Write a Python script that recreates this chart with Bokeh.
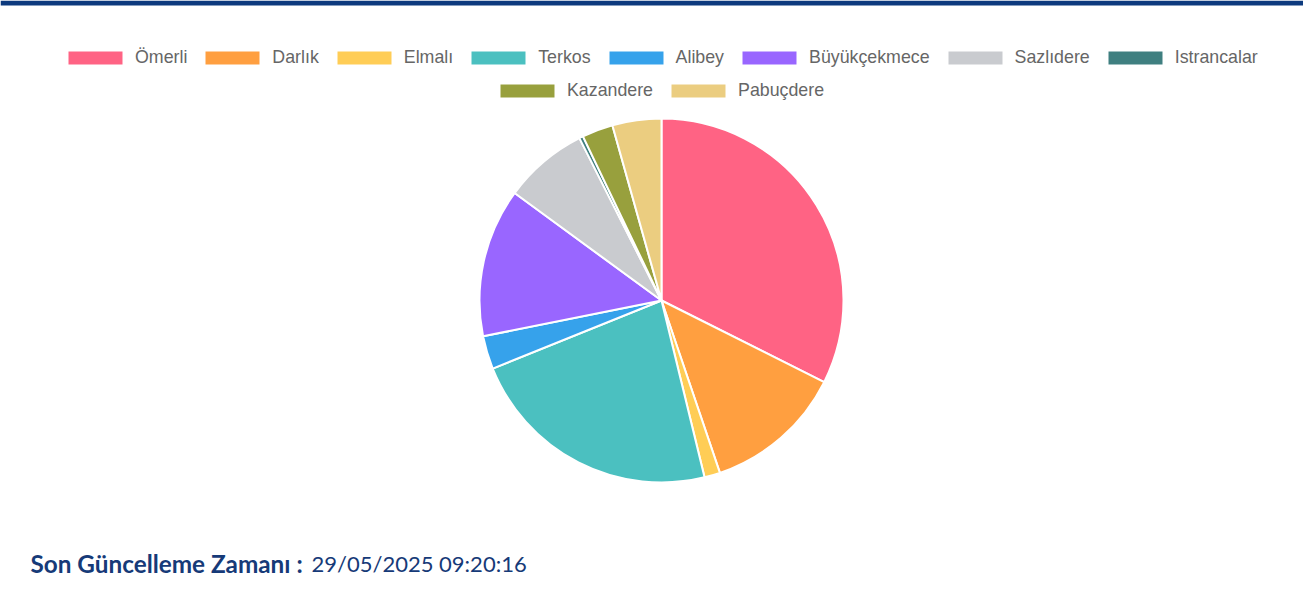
import math
from bokeh.plotting import figure
from bokeh.models import Range1d, Legend, LegendItem, ColumnDataSource
from bokeh.core.properties import value
from bokeh.embed import file_html
from bokeh.resources import INLINE

names = ["Ömerli", "Darlık", "Elmalı", "Terkos", "Alibey", "Büyükçekmece",
         "Sazlıdere", "Istrancalar", "Kazandere", "Pabuçdere"]
shares = [32.4, 12.4, 1.4, 22.7, 2.95, 13.2, 7.5, 0.35, 2.75, 4.35]
colors = ["#ff6384", "#ff9f40", "#ffcd56", "#4bc0c0", "#36a2eb", "#9966ff",
          "#c9cbcf", "#3f7f80", "#98a03d", "#ebcd80"]
footer_label = "Son Güncelleme Zamanı :"
footer_time = "29/05/2025 09:20:16"

W, H = 1303, 603
CX, CY, R = 661, 300, 182

total = sum(shares)
starts, ends = [], []
cum = 0.0
for s in shares:
    a0 = math.pi / 2 - 2 * math.pi * cum / total
    cum += s
    a1 = math.pi / 2 - 2 * math.pi * cum / total
    starts.append(a1)
    ends.append(a0)

src = ColumnDataSource(dict(name=names, share=shares, color=colors,
                            start=starts, end=ends,
                            x=[CX] * len(names), y=[H - CY] * len(names)))

p = figure(width=W, height=H, output_backend="svg", toolbar_location=None,
           x_range=Range1d(0, W), y_range=Range1d(0, H),
           min_border=0, margin=0)
p.axis.visible = False
p.grid.visible = False
p.outline_line_color = None
p.background_fill_color = "white"
p.border_fill_color = "white"

# top bar
p.quad(left=0, right=W, bottom=H - 5, top=H, fill_color="#0d3a7e", line_color=None)

r = p.wedge(x="x", y="y", radius=R, radius_units="screen",
            start_angle="start", end_angle="end", direction="anticlock",
            fill_color="color", line_color="white", line_width=2, source=src)

def make_legend(idx, loc):
    items = [LegendItem(label=names[i], renderers=[r], index=i) for i in idx]
    lg = Legend(items=items, orientation="horizontal", location=loc,
                glyph_width=70, glyph_height=19, label_standoff=5, spacing=10,
                padding=0, margin=0, label_height=18,
                label_text_font="Liberation Sans", label_text_font_size="17.8px",
                label_text_color="#666666", border_line_color=None,
                background_fill_alpha=0)
    return lg

p.add_layout(make_legend(range(8), (60, H - 67.5)))
p.add_layout(make_legend([8, 9], (492, H - 100.5)))

p.text(x=[30], y=[H - 563], text=[footer_label], text_font=value("Lato"),
       text_font_style="bold", text_font_size="24.3px", text_color="#163a78",
       text_baseline="middle")
p.text(x=[311], y=[H - 563], text=[footer_time], text_font=value("Lato"),
       text_font_size="22px", text_color="#163a78", text_baseline="middle")

open("out.html", "w").write(file_html(p, INLINE))
